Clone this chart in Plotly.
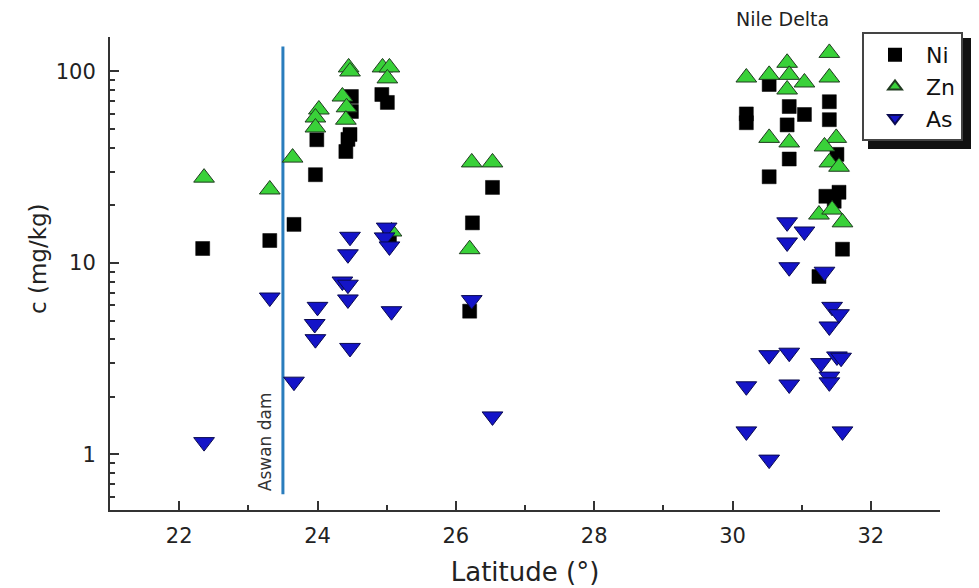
import plotly.graph_objects as go

# ---- data ----
ni_lat = [22.34, 23.31, 23.66, 23.97, 23.99, 24.41, 24.44, 24.47, 24.49, 24.49, 24.93, 25.01, 25.04,
          26.24, 26.53, 26.20,
          30.53, 30.20, 30.20, 30.82, 31.04, 30.79, 31.40, 31.40, 31.51, 30.82, 30.53, 31.35, 31.54, 31.47,
          31.59, 31.25]
ni_c = [11.9, 13.1, 15.9, 28.9, 44.0, 38.2, 44.2, 46.9, 61.8, 74.0, 75.8, 68.9, 13.6,
        16.2, 24.8, 5.6,
        85.5, 60.0, 54.0, 65.6, 59.6, 52.6, 69.5, 56.0, 36.9, 34.9, 28.2, 22.3, 23.4, 21.0,
        11.8, 8.5]

zn_lat = [22.36, 23.31, 23.64, 24.02, 23.97, 23.97, 24.45, 24.47, 24.36, 24.42, 24.41, 24.94, 25.04, 25.01,
          26.23, 26.53, 26.20, 25.07,
          30.20, 30.53, 30.79, 30.82, 30.79, 31.04, 31.40, 31.40, 30.53, 30.82, 31.50, 31.33, 31.40, 31.54,
          31.25, 31.44, 31.59]
zn_c = [27.9, 24.2, 35.5, 63.3, 57.5, 51.0, 105.0, 100.0, 74.0, 65.0, 56.0, 105.0, 105.0, 92.0,
        33.5, 33.5, 11.8, 14.6,
        93.0, 96.0, 111.0, 96.0, 80.5, 87.6, 125.0, 93.0, 45.0, 42.6, 45.0, 40.6, 33.5, 31.8,
        17.9, 19.0, 16.3]

as_lat = [22.36, 23.31, 23.66, 24.00, 23.96, 23.97, 24.47, 24.44, 24.36, 24.44, 24.44, 24.47,
          25.00, 24.97, 25.04, 25.07, 26.23, 26.53,
          30.79, 31.04, 30.79, 30.82, 31.33, 31.44, 31.54, 31.40, 30.53, 30.82, 31.28, 31.51, 31.57,
          31.40, 31.40, 30.20, 30.82, 30.20, 31.59, 30.53]
as_c = [1.16, 6.6, 2.4, 5.9, 4.8, 4.0, 13.7, 11.1, 8.0, 7.7, 6.45, 3.6,
        15.3, 13.6, 12.2, 5.6, 6.4, 1.58,
        16.3, 14.6, 12.8, 9.5, 9.0, 5.9, 5.4, 4.66, 3.3, 3.4, 3.0, 3.25, 3.2,
        2.55, 2.38, 2.27, 2.32, 1.32, 1.32, 0.94]

dam_lat = [23.5, 23.5]
dam_c = [0.62, 135]

x_ticks = [22, 24, 26, 28, 30, 32]
y_ticks = [1, 10, 100]
y_ticktext = ["1", "10", "100"]
y_minor = [0.6, 0.7, 0.8, 0.9, 2, 3, 4, 5, 6, 7, 8, 9, 20, 30, 40, 50, 60, 70, 80, 90]

FONT = "DejaVu Sans, Liberation Sans, Arial, sans-serif"
AX = "#333333"
TXT = "#222222"

# the page adds an 8 px body margin, so figure coords = screen coords - 8
OFF = 8
W, H = 979 - OFF, 588 - OFF
L, R, T, B = 110 - OFF, 940 - OFF, 37 - OFF, 510 - OFF
PW, PH = R - L, B - T


def px(xs):
    return (xs - OFF - L) / PW


def py(ys):
    return (B - (ys - OFF)) / PH


fig = go.Figure()

fig.add_trace(go.Scatter(x=dam_lat, y=dam_c, mode="lines",
                         line=dict(color="#2a7dbd", width=3), showlegend=False, hoverinfo="skip"))

fig.add_trace(go.Scatter(x=ni_lat, y=ni_c, mode="markers", name="Ni",
                         marker=dict(symbol="square", size=14, color="#000000",
                                     line=dict(color="#000000", width=0.5))))
fig.add_trace(go.Scatter(x=zn_lat, y=zn_c, mode="markers", name="Zn",
                         marker=dict(symbol="triangle-up", size=18, color="#39d139",
                                     line=dict(color="#1f3a1f", width=1))))
fig.add_trace(go.Scatter(x=as_lat, y=as_c, mode="markers", name="As",
                         marker=dict(symbol="triangle-down", size=18, color="#1414c8",
                                     line=dict(color="#0a0a50", width=1))))

# legend shadow
fig.add_shape(type="rect", xref="paper", yref="paper",
              x0=px(868), x1=px(971), y0=py(149), y1=py(38),
              fillcolor="#111111", line=dict(width=0), layer="above")

fig.add_annotation(text="Nile Delta", xref="paper", yref="paper",
                   x=px(782), y=py(19), showarrow=False,
                   xanchor="center", yanchor="middle",
                   font=dict(size=19, color=TXT, family=FONT))
fig.add_annotation(text="Aswan dam", xref="x", yref="y", x=23.5, y=-0.2,
                   textangle=-90, xshift=-18, showarrow=False,
                   xanchor="center", yanchor="bottom",
                   font=dict(size=17, color="#333333", family=FONT))
# y-axis title (placed as in the reference, slightly above the plot centre)
fig.add_annotation(text="c (mg/kg)", xref="paper", yref="paper",
                   x=px(38), y=py(259), textangle=-90, showarrow=False,
                   xanchor="center", yanchor="middle",
                   font=dict(size=23, color=TXT, family=FONT))

fig.update_layout(
    width=W, height=H,
    margin=dict(l=L, r=W - R, t=T, b=H - B, autoexpand=False),
    paper_bgcolor="white", plot_bgcolor="white",
    font=dict(family=FONT, color=TXT),
    legend=dict(x=px(862), y=py(32), xanchor="left", yanchor="top",
                bgcolor="white", bordercolor="#444444", borderwidth=2,
                font=dict(size=22, family=FONT, color="#111111"),
                itemwidth=52, itemsizing="constant", tracegroupgap=0),
    showlegend=True,
)

fig.update_xaxes(range=[21, 33], tickvals=x_ticks, showgrid=False, zeroline=False, automargin=False,
                 showline=True, linecolor=AX, linewidth=2, mirror=False,
                 ticks="inside", ticklen=9, tickwidth=1.5, tickcolor=AX, ticklabelstandoff=6,
                 minor=dict(dtick=1, ticks="inside", ticklen=5, tickwidth=1.5, tickcolor=AX, showgrid=False),
                 tickfont=dict(size=21, family=FONT, color=TXT),
                 title=dict(text="Latitude (°)", font=dict(size=26, family=FONT, color=TXT), standoff=16))

fig.update_yaxes(type="log", range=[-0.29, 2.18], tickvals=y_ticks, ticktext=y_ticktext,
                 showgrid=False, zeroline=False, automargin=False,
                 showline=True, linecolor=AX, linewidth=2, mirror=False,
                 ticks="inside", ticklen=9, tickwidth=1.5, tickcolor=AX, ticklabelstandoff=8,
                 minor=dict(tickvals=y_minor, ticks="inside", ticklen=5, tickwidth=1.5, tickcolor=AX, showgrid=False),
                 tickfont=dict(size=21, family=FONT, color=TXT))

fig.write_html("out.html")
